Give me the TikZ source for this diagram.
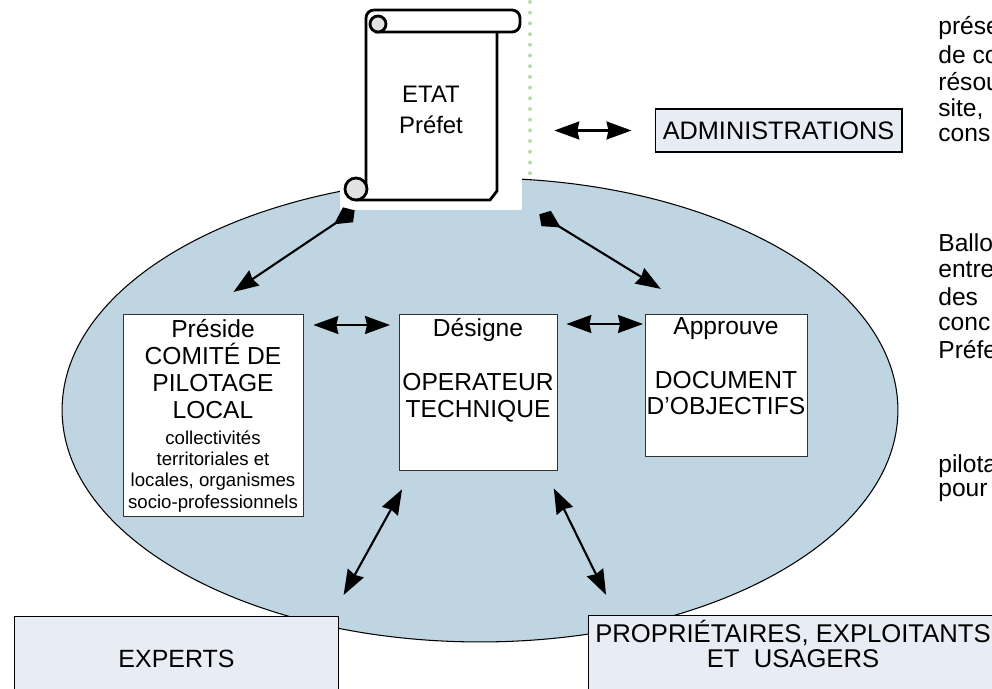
\documentclass[tikz,border=0pt]{standalone}
\usepackage{fontspec}
\setmainfont{Liberation Sans}
\usetikzlibrary{arrows.meta,positioning,calc}

\definecolor{ovalblue}{RGB}{191,213,225}
\definecolor{paleblue}{RGB}{232,237,245}
\definecolor{dotgreen}{RGB}{184,220,168}
\definecolor{curlgray}{RGB}{226,226,226}

\tikzset{
	scrollline/.style={line width=1.6pt, line join=round},
	whitebox/.style={draw=black!80, fill=white, line width=0.8pt, inner sep=0pt},
	palebox/.style={draw=black, fill=paleblue, line width=0.6pt, inner sep=0pt},
	bigtext/.style={align=center, inner sep=0pt, font=\fontsize{14}{15.3}\selectfont},
	smalltext/.style={align=center, inner sep=0pt, font=\fontsize{10.6}{12.2}\selectfont},
	sidetext/.style={anchor=west, inner sep=0pt, font=\fontsize{14}{15.9}\selectfont},
	dblarrow/.style={{Stealth[length=0.5cm,width=0.36cm,inset=0.04cm]}-{Stealth[length=0.5cm,width=0.36cm,inset=0.04cm]}, line width=1.2pt},
	tailarrow/.style={{Kite[reversed,length=0.5cm,width=0.36cm,inset=0.16cm]}-{Stealth[length=0.5cm,width=0.36cm,inset=0.04cm]}, line width=1.2pt}
}

\begin{document}
\begin{tikzpicture}[x=0.02cm, y=-0.02cm]
	\useasboundingbox (0,0) rectangle (992,689);

	% oval and the white patch behind the scroll
	\draw[fill=ovalblue, line width=0.6pt] (480,410) ellipse [x radius=8.36cm, y radius=4.64cm];
	\fill[white] (340,0) rectangle (522,210);
	\draw[dotgreen, line width=0.08cm, line cap=round, dash pattern=on 0pt off 0.214cm] (530,2) -- (530,176);

	% scroll
	\draw[scrollline, rounded corners=0.16cm] (366,189) -- (366,10) -- (520,10) -- (520,32) -- (375,32);
	\draw[scrollline] (497,32) -- (497,191) -- (490,200) -- (356,200);
	\filldraw[scrollline, fill=curlgray] (378,24) circle [radius=0.16cm];
	\filldraw[scrollline, fill=curlgray] (356,189) circle [radius=0.22cm];
	\node[minimum width=2.64cm, minimum height=3.6cm, inner sep=0pt, align=center,
		font=\fontsize{13.6}{18.1}\selectfont] (etat) at (431,110) {ETAT\\Préfet};

	\node[palebox, minimum width=4.94cm, minimum height=0.86cm, font=\fontsize{14.4}{16}\selectfont]
		(admin) at (778.5,130.5) {ADMINISTRATIONS};

	% the three boxes in the oval
	\node[whitebox, anchor=north west, minimum width=3.6cm, minimum height=4.04cm] (pres) at (123,314) {};
	\node[whitebox, anchor=north west, minimum width=3.16cm, minimum height=3.12cm] (ope) at (399,314) {};
	\node[whitebox, anchor=north west, minimum width=3.24cm, minimum height=2.84cm] (doc) at (645,314) {};

	\node[bigtext, anchor=north] (presTitle) at (213,319) {Préside\\COMITÉ DE\\PILOTAGE\\LOCAL};
	\node[smalltext, anchor=north] (presMembers) at (213,430)
		{collectivités\\territoriales et\\locales, organismes\\socio-professionnels};
	\node[bigtext, anchor=north] (opeTitle) at (478,318) {Désigne\\\mbox{}\\OPERATEUR\\TECHNIQUE};
	\node[bigtext, anchor=north] (docTitle) at (726,317) {Approuve\\\mbox{}\\DOCUMENT\\D’OBJECTIFS};

	% bottom boxes
	\node[palebox, anchor=north west, minimum width=6.48cm, minimum height=1.68cm,
		font=\fontsize{14.2}{16}\selectfont] (experts) at (14,616) {EXPERTS};
	\node[palebox, anchor=north west, minimum width=8.6cm, minimum height=1.68cm] (prop) at (588,615) {};
	\node[align=center, inner sep=0pt, font=\fontsize{14.6}{14.7}\selectfont]
		(propText) at (793,644) {PROPRIÉTAIRES, EXPLOITANTS\\ET\ \ USAGERS};

	% arrows
	\draw[dblarrow, shorten <=1.14cm, shorten >=0.46cm] (etat.east |- admin.west) -- (admin.west);
	\draw[tailarrow, shorten >=0.79cm] ([shift={(-0.2cm,-0.2cm)}]etat.south west) -- ([xshift=-0.26cm]pres.north);
	\draw[tailarrow, shorten >=0.96cm] ([shift={(0.84cm,-0.28cm)}]etat.south east) -- ([xshift=-0.5cm]doc.north);
	\draw[dblarrow, shorten <=0.18cm, shorten >=0.18cm] ([yshift=-0.22cm]pres.north east) -- ([yshift=-0.22cm]ope.north west);
	\draw[dblarrow, shorten <=0.16cm, shorten >=0.04cm] ([yshift=-0.2cm]ope.north east) -- ([yshift=-0.2cm]doc.north west);
	\draw[dblarrow, shorten <=0.41cm, shorten >=0.48cm] ([xshift=0.26cm]ope.south west) -- ([xshift=-0.14cm]experts.north east);
	\draw[dblarrow, shorten <=0.38cm, shorten >=0.45cm] ([xshift=-0.26cm]ope.south east) -- ([xshift=0.56cm]prop.north west);

	% text running on beyond the right edge
	\foreach \txt/\yy [count=\i] in {prése/28, de co/55, résou/82, {site,}/109, cons/135,
		Ballo/243, entre/270, des/297, conc/324, Préfe/350, pilota/466, pour/492}
		\node[sidetext] (side\i) at (938,\yy) {\txt};
\end{tikzpicture}
\end{document}
